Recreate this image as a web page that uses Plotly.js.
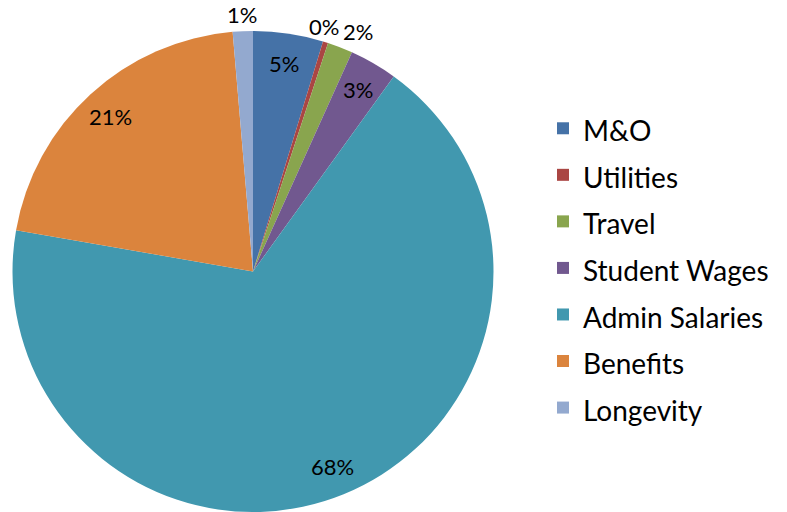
<!DOCTYPE html>
<html>
<head>
<meta charset="utf-8">
<script src="https://cdn.plot.ly/plotly-3.0.1.min.js"></script>
<style>html,body{margin:0;padding:0;background:#fff;}#chart{width:787px;height:512px;}</style>
</head>
<body>
<div id="chart"></div>
<script>
// Data
const labels = ['M&O', 'Utilities', 'Travel', 'Student Wages', 'Admin Salaries', 'Benefits', 'Longevity'];
const values = [4.7, 0.35, 1.7, 3.2, 67.8, 20.9, 1.35];
const colors = ['#4572A7', '#AA4643', '#89A54E', '#71588F', '#4198AF', '#DB843D', '#93A9CF'];
const labelInside = [true, false, false, true, true, true, false];
const labelNudge = [0, -7, 12, 0, 0, 0, 0];

// Layout geometry
const W = 787, H = 512;
const dom = {x0: 12, x1: 494, y0: 31, y1: 512};
const cx = (dom.x0 + dom.x1) / 2, cy = (dom.y0 + dom.y1) / 2;
const R = Math.min(dom.x1 - dom.x0, dom.y1 - dom.y0) / 2;

const total = values.reduce((a, b) => a + b, 0);
let cum = 0;
const annotations = values.map((v, i) => {
  const mid = (cum + v / 2) / total;
  cum += v;
  const th = mid * 2 * Math.PI;
  const k = labelInside[i] ? 0.875 : 1.07;
  const px = cx + R * k * Math.sin(th);
  const py = cy - R * k * Math.cos(th);
  return {
    x: px / W, y: 1 - py / H, xref: 'paper', yref: 'paper',
    text: Math.round(v / total * 100) + '%',
    showarrow: false, xanchor: 'center', yanchor: 'middle',
    xshift: labelNudge[i],
    font: {family: 'Lato, sans-serif', size: 22, color: '#000'}
  };
});

const trace = {
  type: 'pie',
  labels: labels.map(l => '<span style="font-size:28px">' + l + '</span>'),
  values: values,
  sort: false,
  direction: 'clockwise',
  rotation: 0,
  marker: {colors: colors, line: {width: 0}},
  textinfo: 'none',
  hoverinfo: 'label+percent',
  domain: {x: [dom.x0 / W, dom.x1 / W], y: [1 - dom.y1 / H, 1 - dom.y0 / H]}
};

const layout = {
  width: W, height: H,
  margin: {l: 0, r: 0, t: 0, b: 0},
  paper_bgcolor: '#fff',
  showlegend: true,
  legend: {
    x: 543 / W, y: 1 - 100 / H, xanchor: 'left', yanchor: 'top',
    font: {family: 'Lato, sans-serif', size: 33.5, color: '#000'},
    bgcolor: 'rgba(0,0,0,0)'
  },
  annotations: annotations
};

Plotly.newPlot('chart', [trace], layout, {displayModeBar: false, staticPlot: true});
</script>
</body>
</html>
